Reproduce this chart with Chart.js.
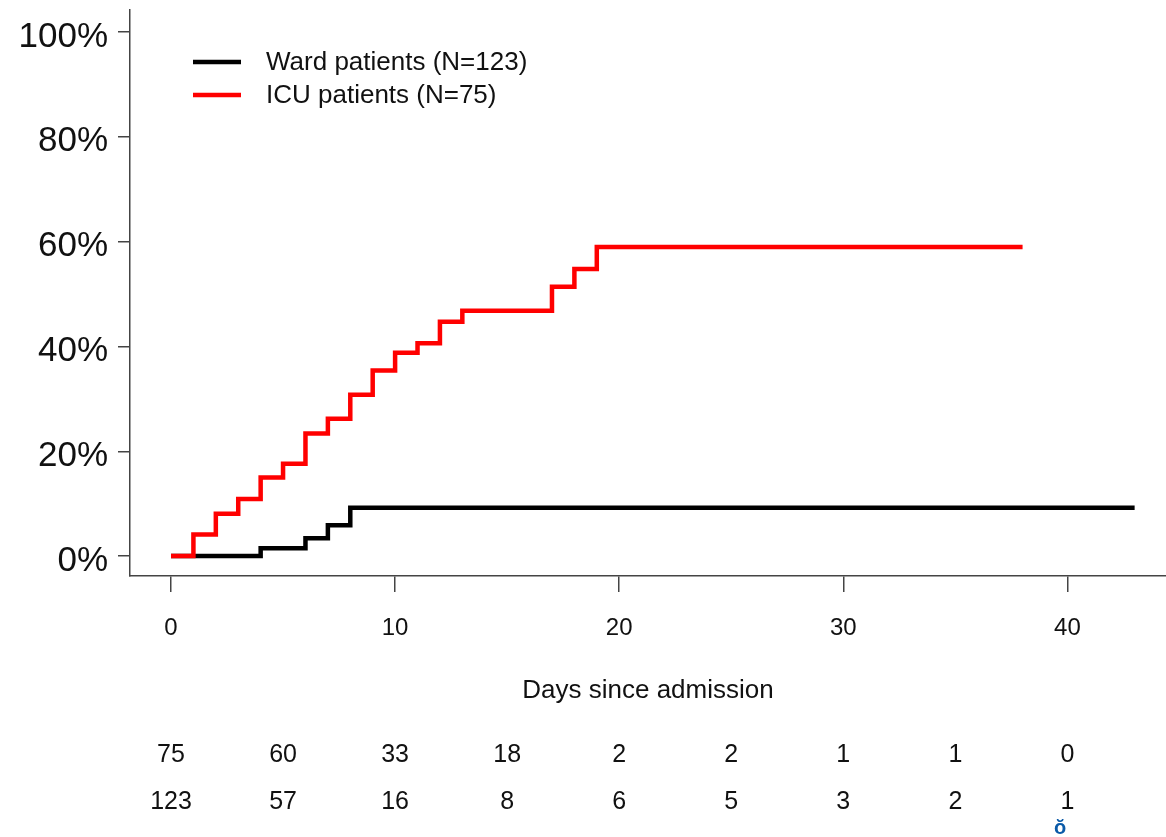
<!DOCTYPE html>
<html>
<head>
<meta charset="utf-8">
<script src="https://cdn.jsdelivr.net/npm/chart.js@4"></script>
<style>
    html, body { margin: 0; padding: 0; background: #fff; }
    #wrap { width: 1166px; height: 837px; position: relative; }
</style>
</head>
<body>
<div id="wrap"><canvas id="kmChart"></canvas></div>
<script>
// Cumulative incidence (percent)
const icuDays = [0, 1, 2, 3, 4, 5, 6, 7, 8, 9, 10, 11, 12, 13, 17, 18, 19, 38];
const icuValues = [0, 4.1, 8.1, 10.9, 15.0, 17.6, 23.4, 26.2, 30.8, 35.4, 38.8, 40.6, 44.7, 46.8, 51.4, 54.8, 59.0, 59.0];
const wardDays = [0, 4, 6, 7, 8, 43];
const wardValues = [0, 1.5, 3.4, 5.9, 9.2, 9.2];

const xTicks = [0, 10, 20, 30, 40];
const yTicks = [0, 20, 40, 60, 80, 100];

// Number at risk table
const riskDays = [0, 5, 10, 15, 20, 25, 30, 35, 40];
const icuAtRisk = [75, 60, 33, 18, 2, 2, 1, 1, 0];
const wardAtRisk = [123, 57, 16, 8, 6, 5, 3, 2, 1];

const legendItems = [
    { label: 'Ward patients (N=123)', color: '#000000' },
    { label: 'ICU patients (N=75)', color: '#ff0000' }
];

const font = "'Liberation Sans', Arial, sans-serif";

function toPoints(days, values) {
    return days.map((d, i) => ({ x: d, y: values[i] }));
}

// legend + risk table drawn on the canvas
const extrasPlugin = {
    id: 'extras',
    afterDraw(chart) {
        const ctx = chart.ctx;
        const xs = chart.scales.x;
        ctx.save();

        // legend
        ctx.font = '26px ' + font;
        ctx.textAlign = 'left';
        ctx.textBaseline = 'middle';
        legendItems.forEach((item, i) => {
            const y = 62 + i * 33;
            ctx.strokeStyle = item.color;
            ctx.lineWidth = 4.5;
            ctx.beginPath();
            ctx.moveTo(193, y);
            ctx.lineTo(241, y);
            ctx.stroke();
            ctx.fillStyle = '#111';
            ctx.fillText(item.label, 266, y + 1);
        });

        // risk table
        ctx.font = '25px ' + font;
        ctx.textAlign = 'center';
        ctx.fillStyle = '#111';
        riskDays.forEach((d, i) => {
            const x = xs.getPixelForValue(d);
            ctx.fillText(String(icuAtRisk[i]), x, 755);
            ctx.fillText(String(wardAtRisk[i]), x, 802);
        });

        ctx.fillStyle = '#0a5aa8';
        ctx.font = 'bold 20px ' + font;
        ctx.fillText('ŏ', 1060, 828);
        ctx.restore();
    }
};

const ctx = document.getElementById('kmChart').getContext('2d');
const kmChart = new Chart(ctx, {
    type: 'line',
    data: {
        datasets: [{
            label: 'ICU patients (N=75)',
            data: toPoints(icuDays, icuValues),
            borderColor: '#ff0000',
            borderWidth: 4.5,
            stepped: 'before',
            pointRadius: 0,
            fill: false,
            order: 1
        }, {
            label: 'Ward patients (N=123)',
            data: toPoints(wardDays, wardValues),
            borderColor: '#000000',
            borderWidth: 4.5,
            stepped: 'before',
            pointRadius: 0,
            fill: false,
            order: 2
        }]
    },
    options: {
        responsive: true,
        maintainAspectRatio: false,
        animation: false,
        layout: {
            padding: { top: 10, right: 0, bottom: 0, left: 0 }
        },
        plugins: {
            legend: { display: false },
            tooltip: { enabled: false }
        },
        scales: {
            x: {
                type: 'linear',
                min: -1.83,
                max: 44.4,
                afterBuildTicks: (scale) => {
                    scale.ticks = xTicks.map(v => ({ value: v }));
                },
                afterFit: (scale) => {
                    scale.height = 261;
                },
                border: { display: true, color: '#444', width: 1.5 },
                grid: {
                    drawOnChartArea: false,
                    drawTicks: true,
                    tickLength: 16,
                    color: '#444',
                    lineWidth: 1.5
                },
                ticks: {
                    color: '#111',
                    padding: 22,
                    font: { family: font, size: 24 },
                    maxRotation: 0
                },
                title: {
                    display: true,
                    text: 'Days since admission',
                    color: '#111',
                    font: { family: font, size: 26 },
                    padding: { top: 0, bottom: 131 }
                }
            },
            y: {
                type: 'linear',
                min: -3.8,
                max: 104.2,
                afterBuildTicks: (scale) => {
                    scale.ticks = yTicks.map(v => ({ value: v }));
                },
                afterFit: (scale) => {
                    scale.width = 130;
                    scale.paddingTop = 0;
                    scale.paddingBottom = 0;
                },
                border: { display: true, color: '#444', width: 1.5 },
                grid: {
                    drawOnChartArea: false,
                    drawTicks: true,
                    tickLength: 12,
                    color: '#444',
                    lineWidth: 1.5
                },
                ticks: {
                    color: '#111',
                    padding: 10,
                    labelOffset: 5,
                    font: { family: font, size: 35 },
                    callback: (v) => v + '%'
                }
            }
        }
    },
    plugins: [extrasPlugin]
});
</script>
</body>
</html>
